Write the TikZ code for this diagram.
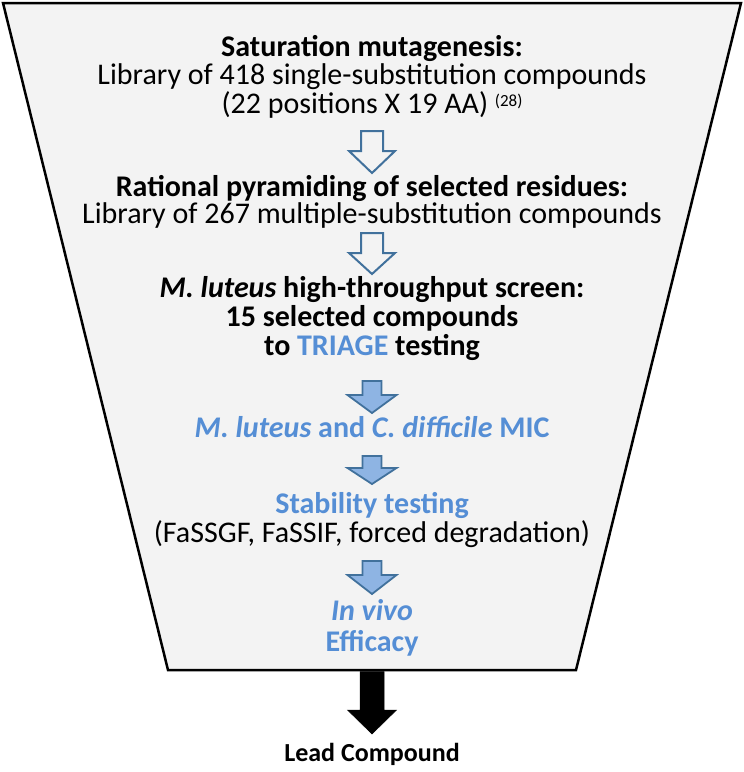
\documentclass[tikz,border=0pt]{standalone}
\usepackage{fontspec}
\setmainfont{Carlito}
\definecolor{bg}{HTML}{F3F3F3}
\definecolor{arrowline}{HTML}{41719C}
\definecolor{arrowfill}{HTML}{8EB4E3}
\definecolor{bluetext}{HTML}{558ED5}
\newcommand\blkarrow[7]{%
  \draw[#1] ({#2-#6},#3) -- ({#2+#6},#3) -- ({#2+#6},#4) -- ({#2+#7},#4) -- (#2,#5)
    -- ({#2-#7},#4) -- ({#2-#6},#4) -- cycle;}
\begin{document}
\begin{tikzpicture}[x=1pt,y=-1pt,
  txt/.style={anchor=base, inner sep=0pt, font=\fontsize{30}{36}\selectfont},
  btxt/.style={txt, font=\fontsize{30}{36}\selectfont\bfseries},
  bluet/.style={btxt, text=bluetext},
  funnel/.style={draw=black, line width=2.5pt, fill=bg, line join=miter},
  hollowarrow/.style={draw=arrowline, line width=2pt, line join=miter},
  filledarrow/.style={draw=arrowline, fill=arrowfill, line width=1.8pt, line join=miter},
  blackarrow/.style={fill=black, draw=black, line width=0.5pt, line join=miter}]
\useasboundingbox (0,0) rectangle (744,772);
\draw[funnel] (3,3) -- (741,3) -- (576,670) -- (168,670) -- cycle;

\node[btxt] (t1) at (372,56) {Saturation mutagenesis:};
\node[txt] (t2) at (372,84) {Library of 418 single-substitution compounds};
\node[txt] (t3) at (372,113) {(22 positions X 19 AA) \raisebox{7pt}{\fontsize{17}{19}\selectfont(28)}};

\blkarrow{hollowarrow}{372}{131}{151}{173}{11}{23}

\node[btxt] (t4) at (372,196) {Rational pyramiding of selected residues:};
\node[txt] (t5) at (372,223) {Library of 267 multiple-substitution compounds};

\blkarrow{hollowarrow}{372}{233}{253}{274}{11}{23}

\node[btxt] (t6) at (372,297) {\textit{M. luteus} high-throughput screen:};
\node[btxt] (t7) at (372,326) {15 selected compounds};
\node[btxt] (t8) at (372,355) {to \textcolor{bluetext}{TRIAGE} testing};

\blkarrow{filledarrow}{372}{381}{395}{413}{9.5}{24.5}

\node[bluet] (t9) at (372,437) {\textit{M. luteus} and \textit{C. difficile} MIC};

\blkarrow{filledarrow}{372}{456}{468}{484}{9.5}{24.5}

\node[bluet] (t10) at (372,513) {Stability testing};
\node[txt] (t11) at (372,542) {(FaSSGF, FaSSIF, forced degradation)};

\blkarrow{filledarrow}{372}{561}{575}{594}{9.5}{24.5}

\node[bluet] (t12) at (372,620) {\textit{In vivo}};
\node[bluet] (t13) at (372,651) {Efficacy};

\blkarrow{blackarrow}{372}{671.5}{710}{734}{12}{24.5}

\node[btxt, font=\fontsize{26}{31}\selectfont\bfseries] (t14) at (372,761) {Lead Compound};
\end{tikzpicture}
\end{document}
